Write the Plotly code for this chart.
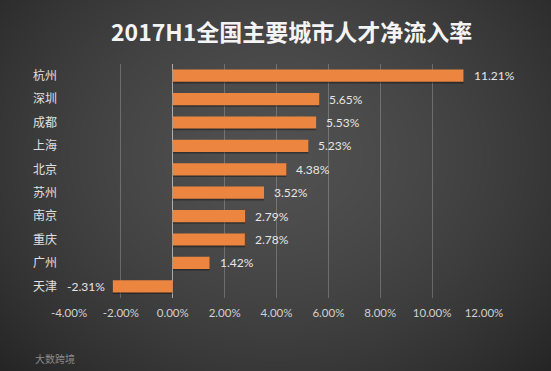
import base64, struct, zlib
import numpy as np
import plotly.graph_objects as go

cities = ["杭州", "深圳", "成都", "上海", "北京", "苏州", "南京", "重庆", "广州", "天津"]
rates = [11.21, 5.65, 5.53, 5.23, 4.38, 3.52, 2.79, 2.78, 1.42, -2.31]
tick_vals = [-4, -2, 0, 2, 4, 6, 8, 10, 12]
title_text = "2017H1全国主要城市人才净流入率"
watermark = "大数跨境"

W, H = 551, 371
ML, MR, MT, MB = 69, 67, 64, 73
PW, PH = W - ML - MR, H - MT - MB

# radial gradient background as inline PNG
def make_bg(w, h):
    yy, xx = np.mgrid[0:h, 0:w].astype(float)
    cx, cy = w * 0.5, h * 0.42
    d = np.sqrt(((xx - cx) / (w * 0.62)) ** 2 + ((yy - cy) / (h * 0.75)) ** 2)
    v = 80 - 36 * np.clip(d, 0, 1.2) ** 1.6
    v = np.clip(v, 0, 255).astype(np.uint8)
    img = np.stack([v, v, v], axis=2)
    raw = b"".join(b"\x00" + img[r].tobytes() for r in range(h))
    def chunk(t, data):
        c = struct.pack(">I", len(data)) + t + data
        return c + struct.pack(">I", zlib.crc32(t + data) & 0xffffffff)
    png = b"\x89PNG\r\n\x1a\n" + chunk(b"IHDR", struct.pack(">IIBBBBB", w, h, 8, 2, 0, 0, 0))
    png += chunk(b"IDAT", zlib.compress(raw, 9)) + chunk(b"IEND", b"")
    return "data:image/png;base64," + base64.b64encode(png).decode()

fig = go.Figure()
# soft shadow under each bar
fig.add_trace(go.Bar(
    x=rates, y=cities, orientation="h",
    marker=dict(color="rgba(0,0,0,0.35)", line=dict(width=0)),
    width=0.52, offset=-0.19,
    hoverinfo="skip",
))
fig.add_trace(go.Bar(
    x=rates, y=cities, orientation="h",
    marker=dict(color="#EC853F", line=dict(width=0)),
    width=0.52, offset=-0.26,
    hoverinfo="skip",
))

for c, r in zip(cities, rates):
    fig.add_annotation(
        x=r, y=c, text=f"{r:.2f}%", showarrow=False,
        xanchor="left" if r >= 0 else "right",
        xshift=8 if r >= 0 else -6,
        font=dict(family="Lato, Noto Sans CJK SC", size=12, color="#E6E6E6"),
    )

fig.add_annotation(
    xref="paper", yref="paper",
    x=(291 - ML) / PW, y=1 + (MT - 31) / PH,
    text=f"<b>{title_text}</b>", showarrow=False,
    xanchor="center", yanchor="middle",
    font=dict(family="Noto Sans CJK SC", size=23, color="#F4F4F4"),
)
fig.add_annotation(
    xref="paper", yref="paper",
    x=(33 - ML) / PW, y=-(358 - (MT + PH)) / PH,
    text=watermark, showarrow=False,
    xanchor="left", yanchor="middle",
    font=dict(family="Noto Sans CJK SC", size=10, color="#8A8A8A"),
)

fig.update_layout(
    width=W, height=H,
    margin=dict(l=ML, r=MR, t=MT, b=MB, pad=0),
    paper_bgcolor="#3A3A3A",
    plot_bgcolor="rgba(0,0,0,0)",
    showlegend=False,
    barmode="overlay",
    images=[dict(
        source=make_bg(W, H), xref="paper", yref="paper",
        x=-ML / PW, y=1 + MT / PH, sizex=W / PW, sizey=H / PH,
        xanchor="left", yanchor="top", sizing="stretch", layer="below",
    )],
    xaxis=dict(
        range=[-4, 12], tickvals=tick_vals,
        ticktext=[f"{v:.2f}%" for v in tick_vals],
        showgrid=True, gridcolor="rgba(255,255,255,0.22)", gridwidth=1,
        zeroline=True, zerolinecolor="rgba(255,255,255,0.55)", zerolinewidth=1,
        showline=False, ticks="", ticklabelstandoff=6,
        tickfont=dict(family="Lato, Noto Sans CJK SC", size=11.5, color="#D0D0D0"),
        fixedrange=True,
    ),
    yaxis=dict(
        autorange="reversed", showgrid=False, zeroline=False, showline=False,
        ticks="", ticklabelstandoff=11,
        tickfont=dict(family="Noto Sans CJK SC", size=12, color="#E0E0E0"),
        fixedrange=True,
    ),
)

fig.write_html(
    "out.html",
    config={"displayModeBar": False},
    post_script="document.body.style.margin='0';document.body.style.overflow='hidden';",
)
